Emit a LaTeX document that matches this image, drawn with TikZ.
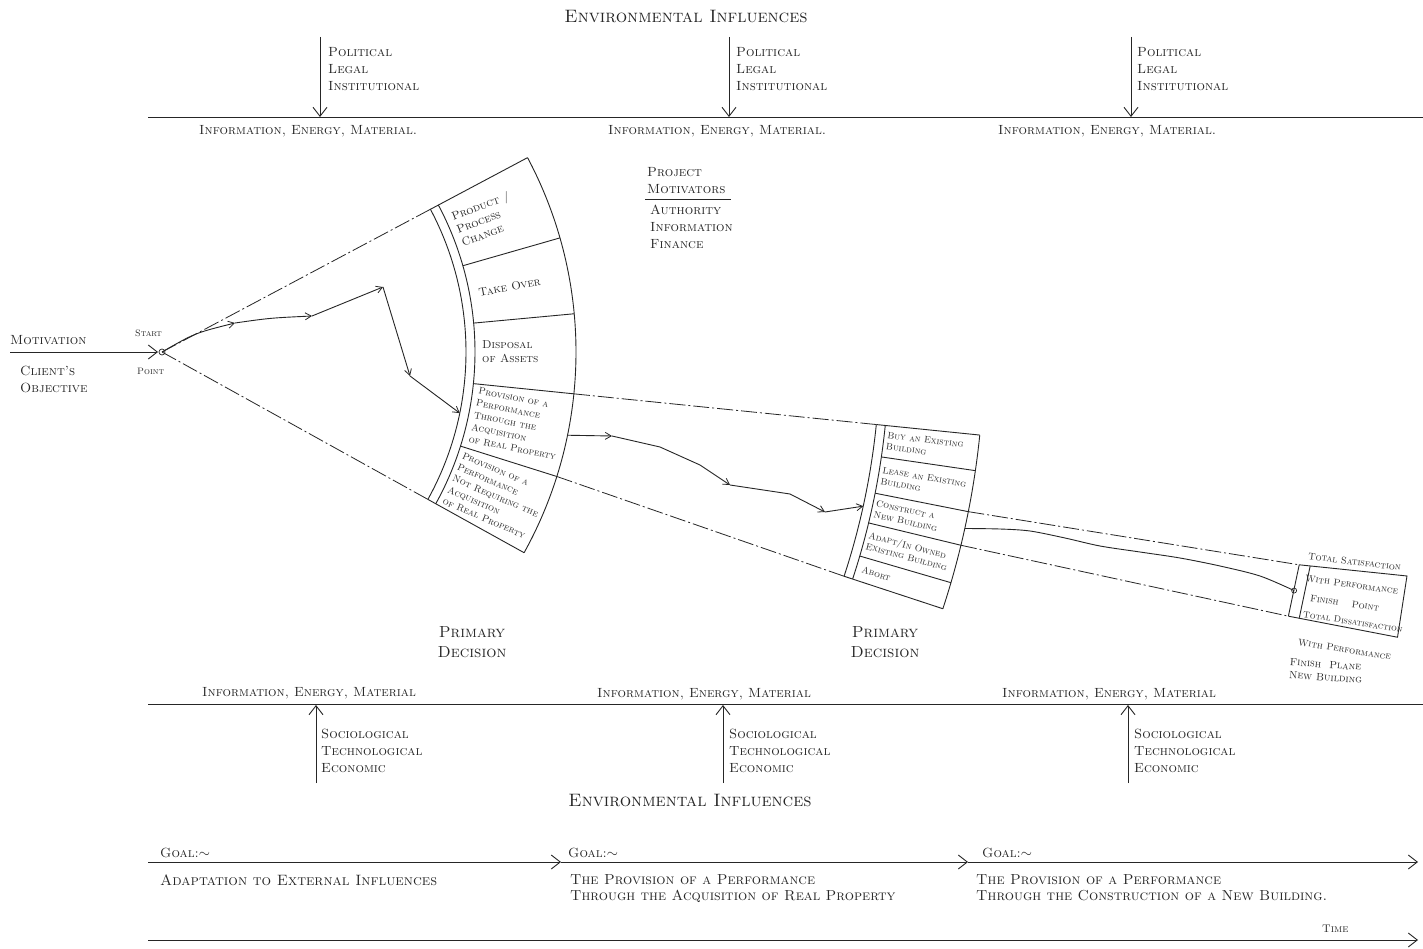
\documentclass[tikz,border=0pt]{standalone}
\usetikzlibrary{arrows.meta,calc}
\begin{document}
\begin{tikzpicture}[x=1pt,y=1pt,
  ink/.style={draw=black!85, line width=0.9pt},
  thin ink/.style={draw=black!85, line width=0.7pt},
  dd/.style={draw=black!85, line width=0.8pt, dash pattern=on 16pt off 3pt on 2pt off 3pt},
  arr/.style={-{Straight Barb[length=9pt,width=14pt,line width=0.9pt]}},
  sarr/.style={-{Straight Barb[length=6pt,width=7pt,line width=0.8pt]}},
  lbl/.style={font=\fontsize{13.3}{17}\selectfont\scshape, text=black!85, inner sep=0pt, align=left},
  big/.style={font=\fontsize{18}{20}\selectfont\scshape, text=black!85, inner sep=0pt},
  pd/.style={font=\fontsize{16}{20}\selectfont\scshape, text=black!85, inner sep=0pt, align=center},
  cell/.style={font=\fontsize{11.5}{14}\selectfont\scshape, text=black!85, inner sep=0pt, align=left},
  cellb/.style={font=\fontsize{9.6}{12.4}\selectfont\scshape, text=black!85, inner sep=0pt, align=left},
  small/.style={font=\fontsize{9.3}{11.5}\selectfont\scshape, text=black!85, inner sep=0pt, align=left},
  fin/.style={font=\fontsize{9.6}{12}\selectfont\scshape, text=black!85, inner sep=0pt, align=left},
  goal/.style={font=\fontsize{15}{16}\selectfont\scshape, text=black!85, inner sep=0pt, align=left},
  goals/.style={font=\fontsize{14.5}{16}\selectfont\scshape, text=black!85, inner sep=0pt, align=left}]
\fill[white] (0,0) rectangle (1423,-949);
\useasboundingbox (0,0) rectangle (1423,-949);

% ---------- top environmental band ----------
\node[big] (envtop) at (686,-16) {Environmental Influences};
\coordinate (tl0) at (148,-117);
\coordinate (tl1) at (1423,-117);
\draw[ink] (tl0) -- (tl1);
\foreach \n/\x in {a/320,b/729,c/1131}{
  \coordinate (tin\n) at (\x,-37);
  \coordinate (tout\n) at (\x,-117);
  \draw[ink,arr] (tin\n) -- (tout\n);
}
\node[lbl, anchor=north west] (pola) at (328,-47) {Political\\Legal\\Institutional};
\node[lbl, anchor=north west] (polb) at (736,-47) {Political\\Legal\\Institutional};
\node[lbl, anchor=north west] (polc) at (1137,-47) {Political\\Legal\\Institutional};
\node[lbl, anchor=west] (iema) at (199,-131) {Information, Energy, Material.};
\node[lbl, anchor=west] (iemb) at (608,-131) {Information, Energy, Material.};
\node[lbl, anchor=west] (iemc) at (998,-131) {Information, Energy, Material.};

% ---------- project motivators ----------
\node[lbl, anchor=north west] (pm1) at (647,-167) {Project\\Motivators};
\coordinate (ul0) at (645,-199);
\coordinate (ul1) at (731,-199);
\draw[thin ink] (ul0) -- (ul1);
\node[lbl, anchor=north west] (pm2) at (650,-205) {Authority\\Information\\Finance};

% ---------- left: motivation ----------
\node[lbl, anchor=west] (mot) at (10,-340) {Motivation};
\coordinate (m0) at (10,-352);
\coordinate (S) at (162,-352);
\draw[ink,arr] (m0) -- ($(S)+(-4,0)$);
\node[lbl, anchor=north west] (cli) at (20,-366) {Client's\\Objective};
\node[small, anchor=west] (st) at (135,-333) {Start};
\node[small, anchor=west] (pt) at (137,-371) {Point};
\draw[thin ink] (S) circle (3);

% ---------- fan (centred at start point) ----------
\begin{scope}[shift={(162,-352)}]
  \coordinate (O) at (0,0);
  \coordinate (FT) at (28:304);
  \coordinate (FB) at (-29:304);
  \draw[dd] (O) -- (FT);
  \draw[dd] (O) -- (FB);
  \draw[ink] (28:304) arc[start angle=28,end angle=-29,radius=304];
  \draw[ink] (28:313) arc[start angle=28,end angle=-29,radius=313];
  \draw[ink] (28:414) arc[start angle=28,end angle=-29,radius=414];
  \draw[ink] (28:304) -- (28:414);
  \draw[ink] (-29:304) -- (-29:414);
  \foreach \a in {16,5.3,-5.8,-17.5}{\draw[ink] (\a:313) -- (\a:414);}
  \node[cell, rotate=21, anchor=west] (c1) at (22.5:319) {Product /\\Process\\Change};
  \node[cell, rotate=10.6, anchor=west] (c2) at (10.6:322) {Take Over};
  \node[cell, rotate=0, anchor=west] (c3) at (0:320) {Disposal\\of Assets};
  \node[cellb, rotate=-11.4, anchor=west] (c4) at (-11.4:318) {Provision of a\\Performance\\Through the\\Acquisition\\of Real Property};
  \node[cellb, rotate=-23.2, anchor=west] (c5) at (-23.4:317) {Provision of a\\Performance\\Not Requiring the\\Acquisition\\of Real Property};

  % dash-dot from fan to middle box
  \coordinate (u0) at (-5.8:414);  \coordinate (u1) at (-5.8:718);
  \coordinate (l0) at (-17.5:414); \coordinate (l1) at (-18.2:718);
  \draw[dd] (u0) -- (u1);
  \draw[dd] (l0) -- (l1);

  % middle box
  \draw[ink] (-5.8:718) arc[start angle=-5.8,end angle=-18.2,radius=718];
  \draw[ink] (-5.8:727) arc[start angle=-5.8,end angle=-18.2,radius=727];
  \draw[ink] (-5.8:822) arc[start angle=-5.8,end angle=-18.2,radius=822];
  \draw[ink] (-5.8:718) -- (-5.8:822);
  \draw[ink] (-18.2:718) -- (-18.2:822);
  \foreach \a in {-8.3,-11.2,-13.6,-16.3}{\draw[ink] (\a:727) -- (\a:822);}
  \node[small, rotate=-7, anchor=west] (b1) at (-7.0:730) {Buy an Existing\\Building};
  \node[small, rotate=-9.7, anchor=west] (b2) at (-9.75:730) {Lease an Existing\\Building};
  \node[small, rotate=-12.4, anchor=west] (b3) at (-12.4:730) {Construct a\\New Building};
  \node[small, rotate=-14.9, anchor=west] (b4) at (-14.95:730) {Adapt/In Owned\\Existing Building};
  \node[small, rotate=-17.2, anchor=west] (b5) at (-17.25:733) {Abort};

  % dash-dot from middle box to finish box
  \coordinate (v0) at (-11.2:822); \coordinate (v1) at (-10.6:1157);
  \coordinate (w0) at (-13.6:822); \coordinate (w1) at (-13.2:1157);
  \draw[dd] (v0) -- (v1);
  \draw[dd] (w0) -- (w1);

  % finish box
  \draw[ink] (-10.6:1157) -- (-13.2:1157);
  \draw[ink] (-10.55:1168) -- (-13.15:1168);
  \draw[ink] (-10.6:1157) -- (-10.2:1265) -- (-13.0:1268) -- (-13.2:1157);
  \coordinate (FP) at (-11.9:1157);
  \coordinate (fanout) at (-11.6:414);
  \coordinate (fanin) at (-11.6:304);
  \coordinate (boxin) at (-12.4:718);
  \coordinate (boxout) at (-12.4:822);
\end{scope}

\node[fin, rotate=-7, anchor=west] (fs1) at (1308,-556) {Total Satisfaction};
\node[fin, rotate=-8, anchor=west] (fs2) at (1305,-578) {With Performance};
\node[fin, rotate=-8, anchor=west] (fs3) at (1310,-598) {Finish \quad Point};
\node[fin, rotate=-9, anchor=west, font=\fontsize{9}{12}\selectfont\scshape] (fs4) at (1303,-614) {Total Dissatisfaction};
\node[fin, rotate=-9, anchor=west] (fs5) at (1298,-642) {With Performance};
\node[fin, rotate=-4, anchor=north west, font=\fontsize{10.5}{13}\selectfont\scshape] (fpl) at (1290,-658) {Finish \ Plane\\New Building};
\draw[thin ink] (FP) circle (2.5);

% ---------- solid decision path ----------
\coordinate (p1) at (235,-323);
\coordinate (p2) at (312,-316);
\coordinate (p3) at (383,-287);
\coordinate (p4) at (410,-376);
\draw[ink,sarr] (S) .. controls (195,-333) .. (p1);
\draw[ink,sarr] (p1) .. controls (270,-318) .. (p2);
\draw[ink,sarr] (p2) -- (p3);
\draw[ink,sarr] (p3) -- (p4);
\draw[ink,sarr] (p4) -- (fanin);

\coordinate (q1) at (612,-436);
\coordinate (q2) at (730,-485);
\coordinate (q3) at (825,-512);
\draw[ink,sarr] (fanout) -- (q1);
\draw[ink,sarr] (q1) -- (660,-447) -- (700,-465) -- (q2);
\draw[ink,sarr] (q2) -- (790,-494) -- (q3);
\draw[ink,sarr] (q3) -- (boxin);

\draw[ink] plot[smooth] coordinates {(boxout) (1000,-529) (1030,-531) (1065,-538) (1100,-546) (1140,-552) (1180,-558) (1220,-566) (1260,-576) (FP)};

% ---------- primary decisions ----------
\node[pd] (pd1) at (472,-642) {Primary\\Decision};
\node[pd] (pd2) at (885,-642) {Primary\\Decision};

% ---------- bottom environmental band ----------
\coordinate (bl0) at (148,-704);
\coordinate (bl1) at (1423,-704);
\draw[ink] (bl0) -- (bl1);
\node[lbl, anchor=west] (bima) at (202,-693) {Information, Energy, Material};
\node[lbl, anchor=west] (bimb) at (597,-694) {Information, Energy, Material};
\node[lbl, anchor=west] (bimc) at (1002,-694) {Information, Energy, Material};
\foreach \n/\x in {a/316,b/723,c/1128}{
  \coordinate (bin\n) at (\x,-783);
  \coordinate (bout\n) at (\x,-705);
  \draw[ink,arr] (bin\n) -- (bout\n);
}
\node[lbl, anchor=north west] (soca) at (321,-729) {Sociological\\Technological\\Economic};
\node[lbl, anchor=north west] (socb) at (729,-729) {Sociological\\Technological\\Economic};
\node[lbl, anchor=north west] (socc) at (1134,-729) {Sociological\\Technological\\Economic};
\node[big] (envbot) at (690,-800) {Environmental Influences};

% ---------- goals ----------
\coordinate (g0) at (148,-862);
\coordinate (g1) at (561,-862);
\coordinate (g2) at (968,-862);
\coordinate (g3) at (1418,-862);
\draw[ink,arr] (g0) -- (g1);
\draw[ink,arr] (g1) -- (g2);
\draw[ink,arr] (g2) -- (g3);
\node[lbl, anchor=west] (go1) at (160,-853) {Goal:$\sim$};
\node[lbl, anchor=west] (go2) at (568,-853) {Goal:$\sim$};
\node[lbl, anchor=west] (go3) at (982,-853) {Goal:$\sim$};
\node[goal, anchor=west] (gt1) at (160,-880) {Adaptation to External Influences};
\node[goals, anchor=north west] (gt2) at (570,-874) {The Provision of a Performance\\Through the Acquisition of Real Property};
\node[goals, anchor=north west] (gt3) at (976,-874) {The Provision of a Performance\\Through the Construction of a New Building.};

% ---------- time ----------
\coordinate (t0) at (148,-940);
\coordinate (t1) at (1418,-940);
\draw[ink,arr] (t0) -- (t1);
\node[fin, anchor=west, font=\fontsize{11}{12}\selectfont\scshape] (time) at (1322,-929) {Time};
\end{tikzpicture}
\end{document}
